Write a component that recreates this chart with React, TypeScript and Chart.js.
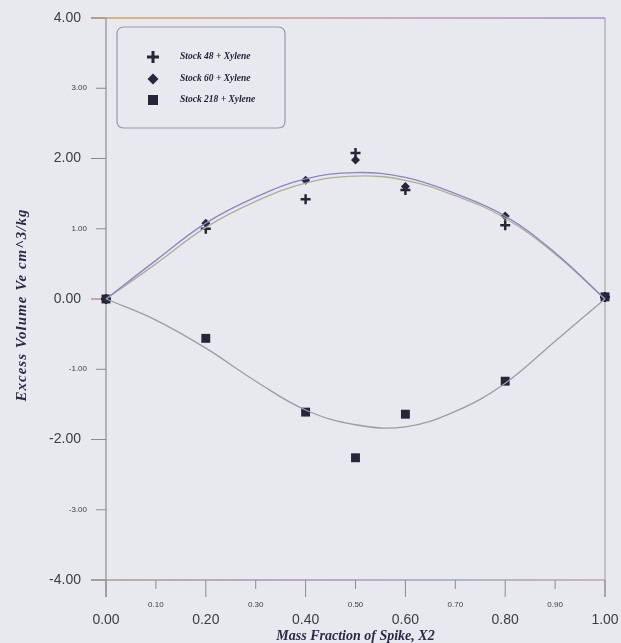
import React, { useEffect, useRef } from 'react';
import { Chart, registerables } from 'chart.js';

Chart.register(...registerables);

// ---- data ----
const pointX = [0, 0.2, 0.4, 0.5, 0.6, 0.8, 1.0];
const stock48 = [0, 1.0, 1.42, 2.08, 1.55, 1.05, 0.03];
const stock60 = [0, 1.08, 1.69, 1.98, 1.6, 1.18, 0.03];
const stock218 = [0, -0.56, -1.61, -2.26, -1.64, -1.17, 0.03];

const fitX = [0, 0.1, 0.2, 0.3, 0.4, 0.5, 0.6, 0.7, 0.8, 0.9, 1.0];
const fitUpperA = [0, 0.55, 1.08, 1.45, 1.71, 1.8, 1.73, 1.5, 1.18, 0.66, 0];
const fitUpperB = [0, 0.5, 1.02, 1.39, 1.65, 1.75, 1.69, 1.47, 1.15, 0.64, 0];
const fitLower = [0, -0.3, -0.7, -1.17, -1.58, -1.79, -1.82, -1.6, -1.2, -0.6, 0];

const yMajorTicks = [4, 2, 0, -2, -4];
const yMinorTicks = [3, 1, -1, -3];
const xMajorTicks = [0, 0.2, 0.4, 0.6, 0.8, 1.0];
const xMinorTicks = [0.1, 0.3, 0.5, 0.7, 0.9];

const legendLabels = ['Stock 48 + Xylene', 'Stock 60 + Xylene', 'Stock 218 + Xylene'];
const xTitle = 'Mass Fraction of Spike, X2';
const yTitle = 'Excess Volume Ve cm^3/kg';

const BG = '#e8e8ef';
const MARK = '#26263a';

const toPts = (xs: number[], ys: number[]) => xs.map((x, i) => ({ x, y: ys[i] }));

function drawMarker(ctx: CanvasRenderingContext2D, style: string, x: number, y: number) {
  ctx.save();
  ctx.fillStyle = MARK;
  ctx.strokeStyle = MARK;
  if (style === 'cross') {
    ctx.lineWidth = 3;
    ctx.beginPath();
    ctx.moveTo(x - 6, y);
    ctx.lineTo(x + 6, y);
    ctx.moveTo(x, y - 6);
    ctx.lineTo(x, y + 6);
    ctx.stroke();
  } else if (style === 'rectRot') {
    ctx.beginPath();
    ctx.moveTo(x, y - 5.5);
    ctx.lineTo(x + 5.5, y);
    ctx.lineTo(x, y + 5.5);
    ctx.lineTo(x - 5.5, y);
    ctx.closePath();
    ctx.fill();
  } else {
    ctx.fillRect(x - 5, y - 5, 10, 10);
  }
  ctx.restore();
}

export default function App() {
  const ref = useRef<HTMLCanvasElement>(null);

  useEffect(() => {
    const canvas = ref.current;
    if (!canvas) return;

    const framePlugin = {
      id: 'frameDraw',
      beforeDraw(chart: any) {
        const c = chart.ctx;
        c.save();
        c.fillStyle = BG;
        c.fillRect(0, 0, chart.width, chart.height);
        c.restore();
      },
      beforeDatasetsDraw(chart: any) {
        const c: CanvasRenderingContext2D = chart.ctx;
        const ca = chart.chartArea;
        const xs = chart.scales.x;
        const ys = chart.scales.y;
        c.save();
        // y axis line
        c.lineWidth = 1;
        c.strokeStyle = '#7a7a84';
        c.beginPath();
        c.moveTo(ca.left, ca.top);
        c.lineTo(ca.left, ca.bottom + 17);
        c.stroke();
        // right frame
        c.strokeStyle = '#9a9aa4';
        c.beginPath();
        c.moveTo(ca.right, ca.top);
        c.lineTo(ca.right, ca.bottom + 17);
        c.stroke();
        // top line
        const gTop = c.createLinearGradient(ca.left, 0, ca.right, 0);
        gTop.addColorStop(0, '#d4a35c');
        gTop.addColorStop(0.5, '#c49aa8');
        gTop.addColorStop(1, '#a890c8');
        c.strokeStyle = gTop;
        c.lineWidth = 1.3;
        c.beginPath();
        c.moveTo(ca.left - 15, ca.top);
        c.lineTo(ca.right, ca.top);
        c.stroke();
        // bottom line
        const gBot = c.createLinearGradient(ca.left, 0, ca.right, 0);
        gBot.addColorStop(0, '#a8a08c');
        gBot.addColorStop(0.4, '#b490c0');
        gBot.addColorStop(0.7, '#9aa8b8');
        gBot.addColorStop(1, '#c8a0a8');
        c.strokeStyle = gBot;
        c.beginPath();
        c.moveTo(ca.left - 15, ca.bottom);
        c.lineTo(ca.right, ca.bottom);
        c.stroke();

        // y ticks
        c.lineWidth = 1;
        c.fillStyle = '#3c3c44';
        c.textAlign = 'right';
        c.textBaseline = 'middle';
        yMajorTicks.forEach((v) => {
          const py = ys.getPixelForValue(v);
          c.strokeStyle = v === 0 ? '#a06080' : '#8a8a94';
          c.beginPath();
          c.moveTo(ca.left - 15, py);
          c.lineTo(ca.left, py);
          c.stroke();
          c.font = '14px "Liberation Sans", Arial, sans-serif';
          c.fillText(v.toFixed(2), ca.left - 25, py);
        });
        c.strokeStyle = '#8a8a94';
        yMinorTicks.forEach((v) => {
          const py = ys.getPixelForValue(v);
          c.beginPath();
          c.moveTo(ca.left - 10, py);
          c.lineTo(ca.left, py);
          c.stroke();
          c.font = '8px "Liberation Sans", Arial, sans-serif';
          c.fillText(v.toFixed(2), ca.left - 19, py);
        });

        // x ticks
        c.textAlign = 'center';
        xMajorTicks.forEach((v) => {
          const px = xs.getPixelForValue(v);
          c.beginPath();
          c.moveTo(px, ca.bottom);
          c.lineTo(px, ca.bottom + 17);
          c.stroke();
          c.font = '14px "Liberation Sans", Arial, sans-serif';
          c.fillText(v.toFixed(2), px, ca.bottom + 40);
        });
        xMinorTicks.forEach((v) => {
          const px = xs.getPixelForValue(v);
          c.beginPath();
          c.moveTo(px, ca.bottom);
          c.lineTo(px, ca.bottom + 9);
          c.stroke();
          c.font = '8px "Liberation Sans", Arial, sans-serif';
          c.fillText(v.toFixed(2), px, ca.bottom + 25);
        });

        // titles
        c.fillStyle = '#2a2a48';
        c.font = 'italic bold 14px "Liberation Serif", "Times New Roman", serif';
        c.fillText(xTitle, (ca.left + ca.right) / 2, ca.bottom + 56);
        c.save();
        c.translate(22, (ca.top + ca.bottom) / 2 + 6);
        c.rotate(-Math.PI / 2);
        c.font = 'italic bold 15px "Liberation Serif", "Times New Roman", serif';
        (c as any).letterSpacing = '1px';
        c.fillText(yTitle, 0, 0);
        c.restore();
        c.restore();
      },
      afterDatasetsDraw(chart: any) {
        const c: CanvasRenderingContext2D = chart.ctx;
        c.save();
        // legend box
        const bx = 117, by = 27, bw = 168, bh = 101, r = 7;
        c.fillStyle = BG;
        c.strokeStyle = '#9a98aa';
        c.lineWidth = 1.2;
        c.beginPath();
        c.moveTo(bx + r, by);
        c.lineTo(bx + bw - r, by);
        c.quadraticCurveTo(bx + bw, by, bx + bw, by + r);
        c.lineTo(bx + bw, by + bh - r);
        c.quadraticCurveTo(bx + bw, by + bh, bx + bw - r, by + bh);
        c.lineTo(bx + r, by + bh);
        c.quadraticCurveTo(bx, by + bh, bx, by + bh - r);
        c.lineTo(bx, by + r);
        c.quadraticCurveTo(bx, by, bx + r, by);
        c.closePath();
        c.fill();
        c.stroke();
        const styles = ['cross', 'rectRot', 'rect'];
        const rows = [57, 79, 100];
        c.font = 'italic bold 9.5px "Liberation Serif", "Times New Roman", serif';
        c.fillStyle = '#22223a';
        c.textAlign = 'left';
        c.textBaseline = 'middle';
        legendLabels.forEach((lab, i) => {
          drawMarker(c, styles[i], 153, rows[i]);
          c.fillText(lab, 180, rows[i]);
        });
        c.restore();
      },
    };

    const chart = new Chart(canvas, {
      type: 'scatter',
      data: {
        datasets: [
          {
            label: 'fitA',
            data: toPts(fitX, fitUpperA),
            showLine: true,
            borderColor: '#8c84c4',
            borderWidth: 1.3,
            pointRadius: 0,
            tension: 0.4,
          },
          {
            label: 'fitB',
            data: toPts(fitX, fitUpperB),
            showLine: true,
            borderColor: '#aeae94',
            borderWidth: 1.3,
            pointRadius: 0,
            tension: 0.4,
          },
          {
            label: 'fitLower',
            data: toPts(fitX, fitLower),
            showLine: true,
            borderColor: '#9c9ca6',
            borderWidth: 1.3,
            pointRadius: 0,
            tension: 0.4,
          },
          {
            label: legendLabels[2],
            data: toPts(pointX, stock218),
            pointStyle: 'rect',
            pointRadius: 6.3,
            backgroundColor: MARK,
            borderColor: MARK,
            borderWidth: 0,
          },
          {
            label: legendLabels[1],
            data: toPts(pointX, stock60),
            pointStyle: 'rectRot',
            pointRadius: 4.5,
            backgroundColor: MARK,
            borderColor: MARK,
            borderWidth: 0,
          },
          {
            label: legendLabels[0],
            data: toPts(pointX, stock48),
            pointStyle: 'cross',
            pointRadius: 5,
            backgroundColor: MARK,
            borderColor: MARK,
            borderWidth: 2.5,
          },
        ],
      },
      options: {
        animation: false,
        responsive: false,
        devicePixelRatio: 1,
        clip: false,
        layout: { padding: { left: 106, right: 16, top: 18, bottom: 63 } },
        scales: {
          x: { type: 'linear', min: 0, max: 1, display: false },
          y: { type: 'linear', min: -4, max: 4, display: false },
        },
        plugins: { legend: { display: false }, tooltip: { enabled: false } },
      },
      plugins: [framePlugin],
    } as any);

    return () => chart.destroy();
  }, []);

  return (
    <div style={{ position: 'absolute', left: 0, top: 0, width: 621, height: 643, background: BG }}>
      <canvas ref={ref} width={621} height={643} style={{ display: 'block', width: 621, height: 643 }} />
    </div>
  );
}
